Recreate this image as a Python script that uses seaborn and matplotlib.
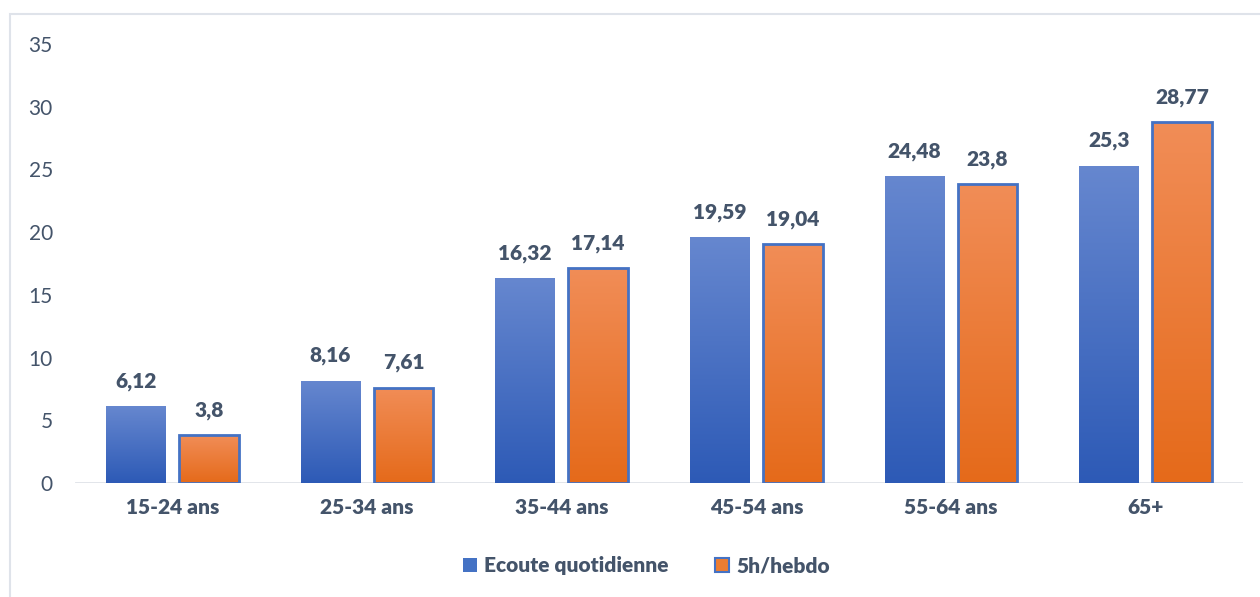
import numpy as np
import pandas as pd
import matplotlib.pyplot as plt
import seaborn as sns
from matplotlib.patches import Patch, Rectangle
from matplotlib.colors import LinearSegmentedColormap

# données
tranches = ['15-24 ans', '25-34 ans', '35-44 ans', '45-54 ans', '55-64 ans', '65+']
ecoute_quotidienne = [6.12, 8.16, 16.32, 19.59, 24.48, 25.3]
hebdo_5h = [3.8, 7.61, 17.14, 19.04, 23.8, 28.77]
series = ['Ecoute quotidienne', '5h/hebdo']

df = pd.DataFrame({
    'tranche': tranches * 2,
    'serie': [series[0]] * len(tranches) + [series[1]] * len(tranches),
    'valeur': ecoute_quotidienne + hebdo_5h,
})

texte = '#44546a'
bleu, orange = '#4472c4', '#ed7d31'
degrades = {
    series[0]: LinearSegmentedColormap.from_list('b', ['#2d5ab6', '#6687cf']),
    series[1]: LinearSegmentedColormap.from_list('o', ['#e56a1a', '#f18d57']),
}

sns.set_style('white')
plt.rcParams['font.family'] = ['Lato', 'DejaVu Sans']

fig = plt.figure(figsize=(12.6, 5.97), dpi=100)
ax = fig.add_axes([75 / 1260, 1 - 483 / 597, (1243 - 75) / 1260, (483 - 44) / 597])

sns.barplot(data=df, x='tranche', y='valeur', hue='serie', hue_order=series,
            palette={series[0]: bleu, series[1]: orange}, width=0.75, gap=0.18,
            legend=False, ax=ax, saturation=1)

ax.set_ylim(0, 35)
xlim = ax.get_xlim()

# dégradé vertical dans chaque barre
grad = np.linspace(0, 1, 256).reshape(-1, 1)
for serie, cont in zip(series, ax.containers):
    for bar in cont:
        x0, w, h = bar.get_x(), bar.get_width(), bar.get_height()
        im = ax.imshow(grad, cmap=degrades[serie], origin='lower', aspect='auto',
                       extent=[x0, x0 + w, 0, h], zorder=1)
        im.set_clip_path(bar)
        bar.set_facecolor('none')
        bar.set_zorder(2)
        if serie == series[1]:
            bar.set_edgecolor(bleu)
            bar.set_linewidth(2)
        else:
            bar.set_linewidth(0)
    labels = [f"{v:g}".replace('.', ',') for v in cont.datavalues]
    ax.bar_label(cont, labels=labels, padding=11, fontsize=15,
                 fontweight='heavy', color=texte)

ax.set_xlim(xlim)
ax.set_ylim(0, 35)
ax.set_yticks(range(0, 36, 5))

for s in ax.spines.values():
    s.set_visible(False)
ax.axhline(0, color='#d9dde4', lw=1.8, zorder=0.5)

ax.set_xlabel('')
ax.set_ylabel('')
ax.tick_params(axis='y', length=0, pad=16, labelsize=15, labelcolor=texte)
ax.tick_params(axis='x', length=0, pad=11, labelsize=15, labelcolor=texte)
for t in ax.get_xticklabels():
    t.set_fontweight('heavy')

handles = [Patch(facecolor=bleu, edgecolor='none', label=series[0]),
           Patch(facecolor=orange, edgecolor=bleu, linewidth=1.5, label=series[1])]
leg = fig.legend(handles=handles, loc='center', bbox_to_anchor=(0.513, 0.052),
                 ncol=2, frameon=False, handlelength=0.7, handleheight=0.7,
                 handletextpad=0.35, columnspacing=2.2,
                 prop={'size': 15, 'weight': 'heavy'})
for t in leg.get_texts():
    t.set_color(texte)

# cadre du graphique
fig.add_artist(Rectangle((10 / 1260, -0.1), 1.1, 1 - 14 / 597 + 0.1,
                         transform=fig.transFigure, fill=False,
                         edgecolor='#dfe3ea', lw=1.5))

fig.savefig('out.png', dpi=100)
